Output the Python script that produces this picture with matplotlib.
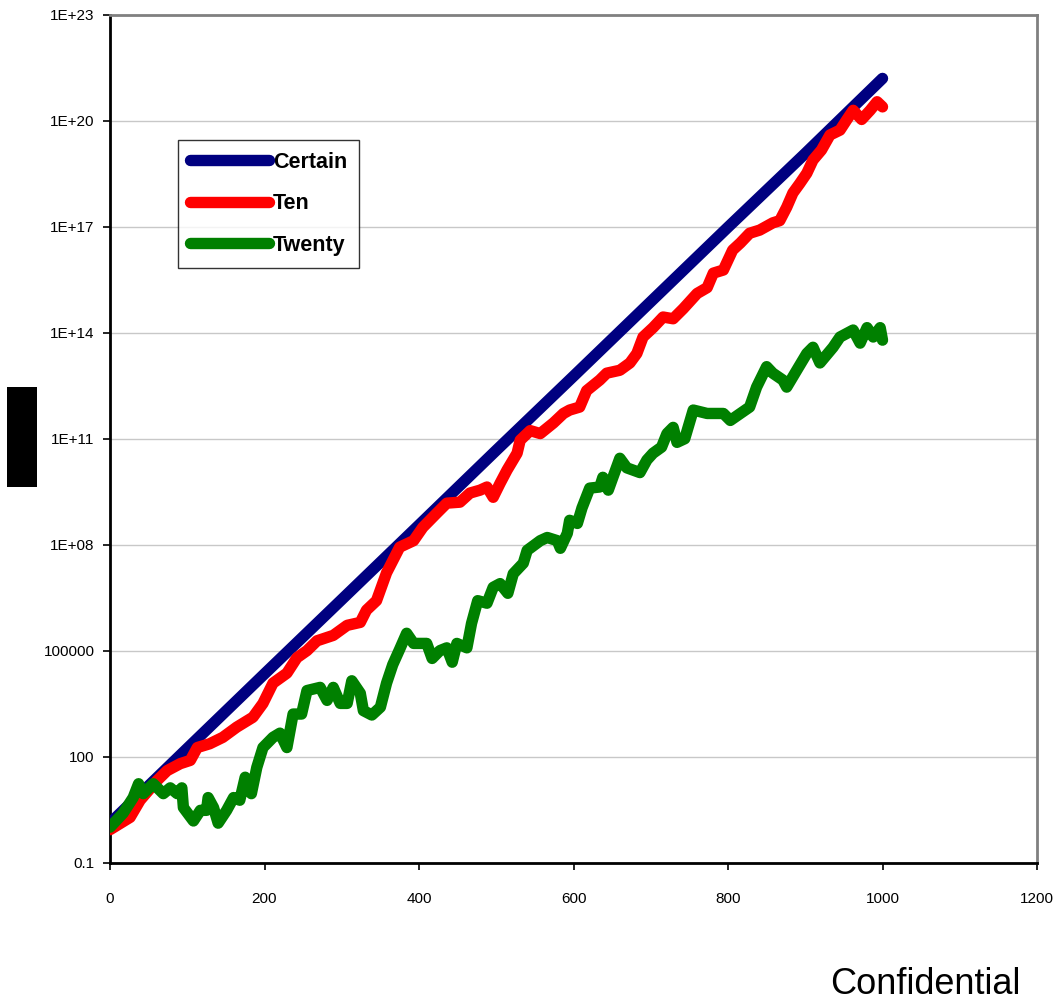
import matplotlib
matplotlib.use("Agg")
import matplotlib.pyplot as plt
from matplotlib.patches import Rectangle

plt.rcParams['font.family'] = ['Liberation Sans', 'DejaVu Sans']

# Certain: straight growth
certain_x = [0, 100, 200, 300, 400, 500, 600, 700, 800, 900, 1000]
certain_y = [1.3, 170, 2.2e4, 2.8e6, 3.6e8, 4.7e10, 5.9e12, 7.6e14, 9.8e16, 1.2e19, 1.6e21]

# Ten
ten_x = [0, 26, 39, 61, 74, 91, 104, 113, 129, 146, 164, 185, 198, 211, 229, 242, 255,
         268, 289, 307, 324, 332, 345, 358, 375, 393, 405, 423, 436, 453, 466, 479, 488,
         496, 505, 514, 527, 531, 544, 557, 574, 587, 595, 608, 617, 634, 643, 660, 673,
         682, 690, 703, 716, 729, 742, 760, 773, 781, 794, 806, 816, 828, 841, 858, 867,
         876, 884, 893, 902, 910, 921, 932, 945, 954, 962, 973, 984, 993, 1000]
ten_y = [0.85, 1.9, 5.8, 21, 40, 63, 78, 180, 230, 350, 680, 1300, 3200, 1.2e4, 2.3e4,
         6.3e4, 1.0e5, 1.9e5, 2.7e5, 5.2e5, 6.3e5, 1.4e6, 2.6e6, 1.6e7, 8.5e7, 1.3e8,
         3.1e8, 7.8e8, 1.5e9, 1.6e9, 2.9e9, 3.5e9, 4.3e9, 2.2e9, 5.5e9, 1.3e10, 3.9e10,
         9.1e10, 1.7e11, 1.4e11, 2.8e11, 5.2e11, 6.5e11, 7.9e11, 2.3e12, 4.6e12, 7.2e12,
         8.7e12, 1.4e13, 2.6e13, 7.6e13, 1.4e14, 2.8e14, 2.5e14, 4.8e14, 1.3e15, 1.9e15,
         4.9e15, 6.0e15, 2.2e16, 3.5e16, 6.6e16, 8.1e16, 1.3e17, 1.5e17, 3.6e17, 9.1e17,
         1.7e18, 3.3e18, 7.8e18, 1.5e19, 4.0e19, 5.5e19, 1.1e20, 2.0e20, 1.1e20, 2.0e20,
         3.5e20, 2.5e20]

# Twenty
twenty_x = [0, 17, 30, 37, 43, 56, 69, 78, 87, 93, 95, 108, 117, 125, 127, 134, 140, 151,
            160, 168, 175, 183, 190, 198, 211, 220, 229, 237, 248, 255, 272, 281, 289, 298,
            307, 313, 324, 328, 339, 350, 358, 366, 375, 384, 393, 410, 417, 427, 436, 443,
            449, 462, 468, 476, 488, 496, 505, 515, 522, 535, 540, 557, 566, 579, 583, 592,
            595, 605, 611, 621, 634, 638, 645, 651, 660, 669, 686, 695, 703, 714, 721, 729,
            734, 744, 755, 773, 794, 803, 816, 828, 837, 850, 858, 871, 876, 889, 902, 910,
            919, 936, 945, 962, 971, 980, 988, 997, 1000]
twenty_y = [1.0, 2.5, 6.9, 17, 8.9, 17, 8.9, 13, 8.9, 13, 3.6, 1.5, 3.0, 3.0, 6.9, 3.6, 1.3,
            3.0, 6.9, 5.8, 26, 8.9, 49, 180, 350, 460, 180, 1600, 1600, 7400, 9100, 3900,
            9100, 3200, 3200, 1.4e4, 6200, 2000, 1500, 2500, 1.2e4, 4.0e4, 1.1e5, 3.1e5,
            1.6e5, 1.6e5, 6.0e4, 1.0e5, 1.2e5, 4.7e4, 1.6e5, 1.2e5, 5.9e5, 2.6e6, 2.2e6,
            6.2e6, 7.9e6, 4.2e6, 1.5e7, 3.0e7, 6.9e7, 1.3e8, 1.6e8, 1.3e8, 7.9e7, 2.1e8,
            4.9e8, 4.0e8, 1.1e9, 4.0e9, 4.3e9, 8.1e9, 3.5e9, 8.1e9, 2.8e10, 1.5e10, 1.1e10,
            2.5e10, 3.9e10, 5.8e10, 1.4e11, 2.1e11, 7.9e10, 1.0e11, 6.5e11, 5.2e11, 5.2e11,
            3.3e11, 5.2e11, 7.9e11, 2.9e12, 1.1e13, 7.2e12, 4.6e12, 2.9e12, 8.7e12, 2.6e13,
            3.9e13, 1.4e13, 3.9e13, 7.6e13, 1.2e14, 5.1e13, 1.4e14, 7.6e13, 1.4e14, 6.2e13]

ytick_vals = [0.1, 100, 1e5, 1e8, 1e11, 1e14, 1e17, 1e20, 1e23]
ytick_labels = ["0.1", "100", "100000", "1E+08", "1E+11", "1E+14", "1E+17", "1E+20", "1E+23"]
xtick_vals = [0, 200, 400, 600, 800, 1000, 1200]

fig = plt.figure(figsize=(10.57, 10.0), dpi=100)
ax = fig.add_axes([110 / 1057, 0.1375, 927 / 1057, 0.8475])

lw = 8.2
ax.plot(certain_x, certain_y, color="#000080", lw=lw, solid_capstyle="round",
        solid_joinstyle="round", label="Certain", zorder=3)
ax.plot(ten_x, ten_y, color="#FF0000", lw=lw, solid_capstyle="round",
        solid_joinstyle="round", label="Ten", zorder=4)
ax.plot(twenty_x, twenty_y, color="#008000", lw=lw, solid_capstyle="round",
        solid_joinstyle="round", label="Twenty", zorder=5)

ax.set_yscale("log")
ax.set_ylim(0.1, 1e23)
ax.set_xlim(0, 1200)
ax.set_yticks(ytick_vals)
ax.set_yticklabels(ytick_labels)
ax.yaxis.set_minor_locator(matplotlib.ticker.NullLocator())
ax.set_xticks(xtick_vals)
ax.set_xticklabels([str(v) for v in xtick_vals])

ax.grid(axis="y", color="#c8c8c8", lw=1.0)
ax.set_axisbelow(True)
ax.tick_params(axis="y", length=5, width=1.2, pad=6, labelsize=11, color="black")
ax.tick_params(axis="x", length=5, width=1.2, pad=16, labelsize=11, color="black")

ax.spines["left"].set_color("black")
ax.spines["bottom"].set_color("black")
ax.spines["left"].set_linewidth(2)
ax.spines["bottom"].set_linewidth(2)
ax.spines["top"].set_color("#808080")
ax.spines["right"].set_color("#808080")
ax.spines["top"].set_linewidth(2)
ax.spines["right"].set_linewidth(2)

leg = ax.legend(loc="upper left", bbox_to_anchor=((178 - 110) / 927, (862.5 - 140) / 847.5),
                borderaxespad=0, fancybox=False, frameon=True, handlelength=3.7,
                handletextpad=0.15, labelspacing=0.95, borderpad=0.55,
                prop={"weight": "bold", "size": 15.5})
leg.get_frame().set_edgecolor("black")
leg.get_frame().set_linewidth(1.0)

# redacted axis title box
fig.patches.append(Rectangle((7 / 1057, 0.513), 30 / 1057, 0.1, transform=fig.transFigure,
                             facecolor="black", edgecolor="none"))

fig.text(830 / 1057, 0.006, "Confidential", fontsize=26, ha="left", va="baseline")

fig.savefig("out.png", dpi=100, facecolor="white")
